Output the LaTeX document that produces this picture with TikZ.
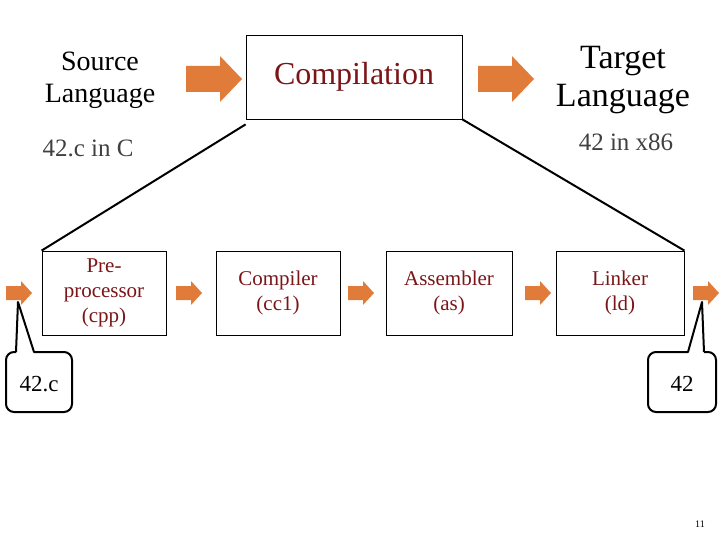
\documentclass[tikz,border=0pt]{standalone}
\usepackage{fontspec}
\setmainfont{Liberation Serif}
\definecolor{dred}{HTML}{7A1518}
\definecolor{org}{HTML}{E07B39}
\begin{document}
\begin{tikzpicture}[x=1pt,y=-1pt,
  box/.style={draw,thick,minimum width=124pt,minimum height=84pt,text=dred,align=center,font=\fontsize{21}{25}\selectfont},
  conn/.style={line width=2pt},
  call/.style={draw,line width=2pt},
  pics/bigarr/.style={code={\fill[org] (-28,-13) -- (6,-13) -- (6,-23) -- (28,0) -- (6,23) -- (6,13) -- (-28,13) -- cycle;}},
  pics/smarr/.style={code={\fill[org] (-13,-7) -- (2,-7) -- (2,-12) -- (13,0) -- (2,12) -- (2,7) -- (-13,7) -- cycle;}}]
\useasboundingbox (0,0) rectangle (720,540);
\node[draw,thick,minimum width=216pt,minimum height=84pt,text=dred,font=\fontsize{32}{36}\selectfont] (comp) at (354,77) {Compilation};
\node[align=center,font=\fontsize{28}{32}\selectfont] (src) at (100,80) {Source\\Language};
\node[align=center,font=\fontsize{34}{38}\selectfont] (tgt) at (623,80) {Target\\Language};
\pic at (214,79) {bigarr};
\pic at (506,79) {bigarr};
\node[text=black!75,font=\fontsize{25}{28}\selectfont] (srcc) at (88,148) {42.c in C};
\node[text=black!75,font=\fontsize{25}{28}\selectfont] (tgtc) at (626,142) {42 in x86};
\node[box] (cpp) at (104,293) {Pre-\\processor\\(cpp)};
\node[box] (cc) at (278,293) {Compiler\\(cc1)};
\node[box,minimum width=126pt] (as) at (449,293) {Assembler\\(as)};
\node[box,minimum width=128pt] (ld) at (620,293) {Linker\\(ld)};
\draw[conn] (comp.south west) ++(0,5) -- (cpp.north west);
\draw[conn] (comp.south east) -- (ld.north east);
\pic at (19,293) {smarr};
\pic at (189,293) {smarr};
\pic at (361,293) {smarr};
\pic at (538,293) {smarr};
\pic at (706,293) {smarr};
\coordinate (t1) at (18,302);
\coordinate (t2) at (702,302);
\draw[call,line join=round] (16,352) -- (t1) -- (34,352) [rounded corners=8pt] -- (72,352) -- (72,412) -- (6,412) -- (6,352) -- (16,352);
\node[font=\fontsize{23}{26}\selectfont] (c1) at (39,384) {42.c};
\draw[call,line join=round] (704,352) -- (t2) -- (688,352) [rounded corners=8pt] -- (648,352) -- (648,412) -- (716,412) -- (716,352) -- (704,352);
\node[font=\fontsize{23}{26}\selectfont] (c2) at (682,384) {42};
\node[font=\fontsize{10}{12}\selectfont] (pg) at (700,524) {11};
\end{tikzpicture}
\end{document}
